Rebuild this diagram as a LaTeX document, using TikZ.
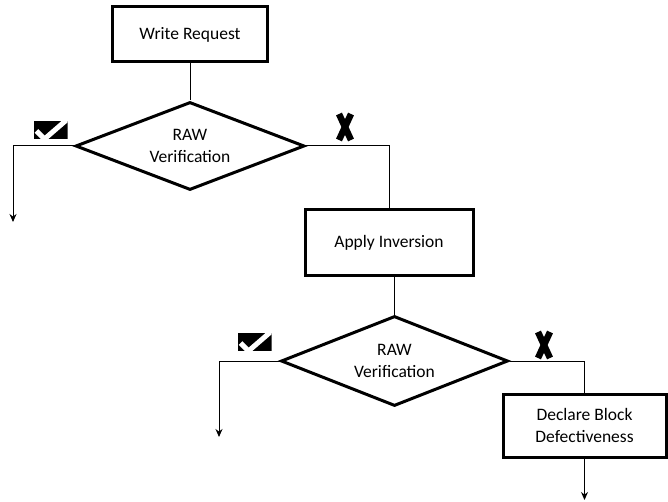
\documentclass[tikz,border=0pt]{standalone}
\usepackage{fontspec}
\setmainfont{Carlito}
\usetikzlibrary{shapes.geometric,arrows.meta,calc}

\tikzset{
  stepbox/.style={draw, rectangle, line width=3pt, align=center, font=\fontsize{17.5}{22}\selectfont},
  decision/.style={draw, diamond, aspect=2.6, inner sep=0pt, line width=3pt, align=center, font=\fontsize{17.5}{22}\selectfont},
  flow/.style={line width=1pt},
  flowarrow/.style={line width=1pt, -{Stealth[length=8pt,width=7pt]}},
}

\begin{document}
\begin{tikzpicture}[x=1pt,y=-1pt]%
%
\def\okmark(#1)% Syntax: (center)
{ \begin{scope}
  \clip ($(#1)+(-17,-9)$) rectangle ($(#1)+(17,9)$);
  \fill[black] ($(#1)+(-17,-9)$) rectangle ($(#1)+(17,9)$);
  \draw[white, line width=5pt] ($(#1)+(-14,1)$) -- ($(#1)+(-6,9)$) -- ($(#1)+(16,-10)$);
  \end{scope} }
\def\failmark(#1)% Syntax: (center)
{ \draw[line width=6.5pt] ($(#1)+(-6,-13)$) -- ($(#1)+(6,13)$);
  \draw[line width=6.5pt] ($(#1)+(6,-13)$) -- ($(#1)+(-6,13)$); }
%
\useasboundingbox (0,0) rectangle (668,502);
%
\node[ stepbox, minimum width=155pt, minimum height=55pt ] (wr) at (190,34.5) {Write Request};
\node[ decision, minimum width=229pt, minimum height=88pt ] (raw1) at (190,146) {RAW\\Verification};
\node[ stepbox, minimum width=168pt, minimum height=65pt ] (ai) at (389,242.5) {Apply Inversion};
\node[ decision, minimum width=227pt, minimum height=90pt ] (raw2) at (394.5,361) {RAW\\Verification};
\node[ stepbox, minimum width=163pt, minimum height=63pt ] (dbd) at (584.5,425.5) {Declare Block\\Defectiveness};
%
\coordinate (pass1) at (13,222);
\coordinate (pass2) at (219,437);
\coordinate (done) at (584.5,500);
%
\draw [ flow ] (wr.south) -- (raw1.north);
\draw [ flowarrow ] (raw1.west) -| (pass1);
\draw [ flow ] (raw1.east) -| (ai.north);
\draw [ flow ] (ai.south -| raw2.north) -- (raw2.north);
\draw [ flowarrow ] (raw2.west) -| (pass2);
\draw [ flow ] (raw2.east) -| (dbd.north);
\draw [ flowarrow ] (dbd.south) -- (done);
%
\okmark(50.5,130)
\failmark(345,127)
\okmark(254.5,342)
\failmark(544,345)
%
\end{tikzpicture}
\end{document}
